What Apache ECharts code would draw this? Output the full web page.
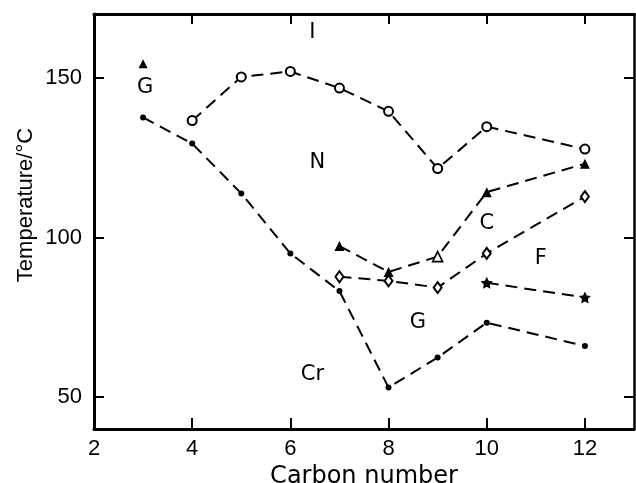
<!DOCTYPE html>
<html>
<head>
<meta charset="utf-8">
<script src="https://cdn.jsdelivr.net/npm/echarts@6/dist/echarts.min.js"></script>
<style>
  html, body { margin: 0; padding: 0; background: #fff; }
  #chart { width: 636px; height: 483px; }
</style>
</head>
<body>
<div id="chart"></div>
<script>
// carbon number and transition temperatures
const clearingX = [4, 5, 6, 7, 8, 9, 10, 12];
const clearingT = [136.6, 150.3, 152.0, 146.8, 139.5, 121.6, 134.7, 127.7];

const meltingX = [3, 4, 5, 6, 7, 8, 9, 10, 12];
const meltingT = [137.6, 129.4, 113.8, 95.0, 83.2, 53.0, 62.4, 73.3, 66.0];

const triangleX = [7, 8, 9, 10, 12];
const triangleT = [97.3, 89.2, 94.0, 114.2, 123.1];
const triangleOpen = [false, false, true, false, false];

const diamondX = [7, 8, 9, 10, 12];
const diamondT = [87.7, 86.4, 84.3, 95.0, 112.8];

const starX = [10, 12];
const starT = [85.8, 81.2];

const lonePoint = [3, 154.4];

// phase labels: [text, carbon, temperature]
const phaseLabels = [
  ['I', 6.45, 164.1],
  ['G', 3.04, 146.9],
  ['N', 6.55, 123.4],
  ['C', 10.0, 104.4],
  ['F', 11.1, 93.4],
  ['G', 8.6, 73.4],
  ['Cr', 6.45, 57.2]
];

const xTicks = [2, 4, 6, 8, 10, 12];
const yTicks = [50, 100, 150];

const FONT = 'DejaVu Sans';
const TICK_FONT = 'Liberation Sans';
const pair = (xs, ys) => xs.map((x, i) => [x, ys[i]]);
const STAR = 'path://M0,-10 L2.9,-4 L9.5,-3.1 L4.7,1.5 L5.9,8.1 L0,5 L-5.9,8.1 L-4.7,1.5 L-9.5,-3.1 L-2.9,-4 Z';

const dashed = { color: '#000', width: 2, type: [12, 7] };

const chart = echarts.init(document.getElementById('chart'));

const option = {
  backgroundColor: '#fff',
  animation: false,
  grid: { left: 94, right: 2, top: 14, bottom: 54, containLabel: false, outerBoundsMode: 'none' },
  xAxis: [
    {
      type: 'value', min: 2, max: 13, position: 'bottom',
      name: 'Carbon number', nameLocation: 'middle', nameGap: 34,
      nameTextStyle: { fontFamily: FONT, fontSize: 24, color: '#000' },
      axisLine: { lineStyle: { color: '#000', width: 3 } },
      axisTick: { inside: true, length: 11, customValues: xTicks, lineStyle: { color: '#000', width: 2 } },
      axisLabel: { customValues: xTicks, margin: 9, fontFamily: TICK_FONT, fontSize: 22, color: '#000' },
      splitLine: { show: false }
    },
    {
      type: 'value', min: 2, max: 13, position: 'top',
      axisLine: { lineStyle: { color: '#000', width: 3 } },
      axisTick: { inside: true, length: 10, customValues: xTicks, lineStyle: { color: '#000', width: 2 } },
      axisLabel: { show: false },
      splitLine: { show: false }
    }
  ],
  yAxis: [
    {
      type: 'value', min: 40, max: 170, position: 'left',
      axisLine: { lineStyle: { color: '#000', width: 3 } },
      axisTick: { inside: true, length: 10, customValues: yTicks, lineStyle: { color: '#000', width: 2 } },
      axisLabel: { customValues: yTicks, margin: 12, fontFamily: TICK_FONT, fontSize: 22, color: '#000' },
      splitLine: { show: false }
    },
    {
      type: 'value', min: 40, max: 170, position: 'right',
      axisLine: { lineStyle: { color: '#000', width: 2.5 } },
      axisTick: { inside: true, length: 10, customValues: yTicks, lineStyle: { color: '#000', width: 2 } },
      axisLabel: { show: false },
      splitLine: { show: false }
    }
  ],
  graphic: [
    {
      type: 'text', x: 26, y: 205, rotation: Math.PI / 2,
      style: { text: 'Temperature/°C', font: '22px "Liberation Sans"', fill: '#000', textAlign: 'center', textVerticalAlign: 'middle' }
    }
  ],
  series: [
    {
      type: 'line', data: pair(clearingX, clearingT),
      symbol: 'circle', symbolSize: 9,
      itemStyle: { color: '#fff', borderColor: '#000', borderWidth: 2 },
      lineStyle: dashed
    },
    {
      type: 'line', data: pair(meltingX, meltingT),
      symbol: 'circle', symbolSize: 6,
      itemStyle: { color: '#000' },
      lineStyle: dashed
    },
    {
      type: 'line',
      data: triangleX.map((x, i) => ({
        value: [x, triangleT[i]],
        itemStyle: triangleOpen[i] ? { color: '#fff', borderColor: '#000', borderWidth: 1.6 } : { color: '#000' }
      })),
      symbol: 'triangle', symbolSize: 10,
      itemStyle: { color: '#000' },
      lineStyle: dashed
    },
    {
      type: 'line', data: pair(diamondX, diamondT),
      symbol: 'diamond', symbolSize: [8, 11],
      itemStyle: { color: '#fff', borderColor: '#000', borderWidth: 2 },
      lineStyle: dashed
    },
    {
      type: 'line', data: pair(starX, starT),
      symbol: STAR, symbolSize: 12,
      itemStyle: { color: '#000' },
      lineStyle: dashed
    },
    {
      type: 'scatter', data: [lonePoint],
      symbol: 'triangle', symbolSize: 9,
      itemStyle: { color: '#000', opacity: 1 }
    },
    {
      type: 'scatter',
      data: phaseLabels.map(p => ({ value: [p[1], p[2]], name: p[0] })),
      symbolSize: 0,
      itemStyle: { color: '#000', opacity: 1 },
      label: {
        show: true, position: 'inside', formatter: '{b}',
        fontFamily: FONT, fontSize: 21, color: '#000', opacity: 1
      },
      silent: true
    }
  ]
};

chart.setOption(option);
window.addEventListener('resize', () => chart.resize());
</script>
</body>
</html>
